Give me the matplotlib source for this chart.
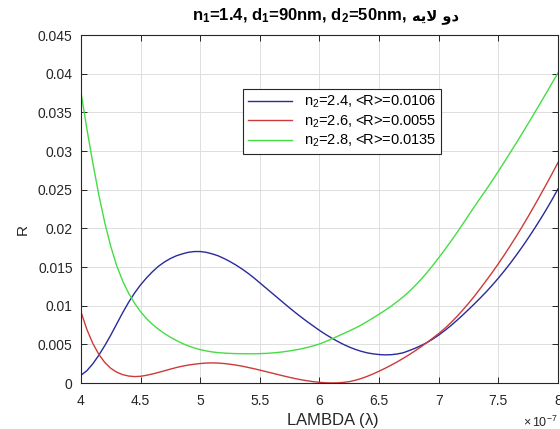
import numpy as np
import matplotlib
matplotlib.use('Agg')
import matplotlib.pyplot as plt
from matplotlib.ticker import FuncFormatter

plt.rcParams['font.family'] = ['Liberation Sans', 'DejaVu Sans']
plt.rcParams['mathtext.fontset'] = 'custom'
plt.rcParams['mathtext.rm'] = 'Liberation Sans'
plt.rcParams['mathtext.it'] = 'Liberation Sans:italic'
plt.rcParams['mathtext.bf'] = 'Liberation Sans:bold'

# lambda in units of 1e-7 m, read every 0.05
lam = [4.00, 4.05, 4.10, 4.15, 4.20, 4.25, 4.30, 4.35, 4.40, 4.45,
       4.50, 4.55, 4.60, 4.65, 4.70, 4.75, 4.80, 4.85, 4.90, 4.95,
       5.00, 5.05, 5.10, 5.15, 5.20, 5.25, 5.30, 5.35, 5.40, 5.45,
       5.50, 5.55, 5.60, 5.65, 5.70, 5.75, 5.80, 5.85, 5.90, 5.95,
       6.00, 6.05, 6.10, 6.15, 6.20, 6.25, 6.30, 6.35, 6.40, 6.45,
       6.50, 6.55, 6.60, 6.65, 6.70, 6.75, 6.80, 6.85, 6.90, 6.95,
       7.00, 7.05, 7.10, 7.15, 7.20, 7.25, 7.30, 7.35, 7.40, 7.45,
       7.50, 7.55, 7.60, 7.65, 7.70, 7.75, 7.80, 7.85, 7.90, 7.95, 8.00]

# n2 = 2.4
R_24 = [0.00100, 0.00160, 0.00250, 0.00360, 0.00485, 0.00620, 0.00765, 0.00910, 0.01045, 0.01165,
        0.01270, 0.01360, 0.01440, 0.01510, 0.01565, 0.01610, 0.01645, 0.01670, 0.01690, 0.01700,
        0.01700, 0.01690, 0.01670, 0.01645, 0.01610, 0.01570, 0.01525, 0.01475, 0.01420, 0.01360,
        0.01295, 0.01230, 0.01165, 0.01100, 0.01035, 0.00970, 0.00908, 0.00848, 0.00790, 0.00735,
        0.00680, 0.00630, 0.00583, 0.00540, 0.00500, 0.00465, 0.00435, 0.00410, 0.00390, 0.00377,
        0.00368, 0.00364, 0.00366, 0.00375, 0.00390, 0.00418, 0.00448, 0.00483, 0.00522, 0.00568,
        0.00620, 0.00678, 0.00740, 0.00807, 0.00877, 0.00950, 0.01025, 0.01102, 0.01182, 0.01267,
        0.01356, 0.01450, 0.01548, 0.01652, 0.01760, 0.01873, 0.01990, 0.02112, 0.02238, 0.02370, 0.02510]

# n2 = 2.6
R_26 = [0.00920, 0.00690, 0.00510, 0.00370, 0.00265, 0.00190, 0.00140, 0.00108, 0.00090, 0.00083,
        0.00087, 0.00100, 0.00117, 0.00137, 0.00158, 0.00180, 0.00200, 0.00218, 0.00232, 0.00243,
        0.00252, 0.00258, 0.00260, 0.00258, 0.00252, 0.00243, 0.00232, 0.00218, 0.00202, 0.00185,
        0.00167, 0.00148, 0.00129, 0.00110, 0.00091, 0.00073, 0.00056, 0.00041, 0.00028, 0.00017,
        0.00009, 0.00003, 0.00001, 0.00002, 0.00008, 0.00018, 0.00035, 0.00058, 0.00086, 0.00118,
        0.00153, 0.00190, 0.00230, 0.00272, 0.00317, 0.00364, 0.00414, 0.00467, 0.00523, 0.00580,
        0.00640, 0.00705, 0.00777, 0.00856, 0.00941, 0.01030, 0.01125, 0.01225, 0.01328, 0.01433,
        0.01543, 0.01657, 0.01775, 0.01897, 0.02023, 0.02153, 0.02287, 0.02424, 0.02563, 0.02705, 0.02850]

# n2 = 2.8
R_28 = [0.03760, 0.03280, 0.02840, 0.02430, 0.02070, 0.01765, 0.01515, 0.01318, 0.01160, 0.01030,
        0.00922, 0.00832, 0.00757, 0.00695, 0.00640, 0.00592, 0.00550, 0.00512, 0.00480, 0.00453,
        0.00432, 0.00415, 0.00402, 0.00393, 0.00387, 0.00383, 0.00380, 0.00379, 0.00378, 0.00378,
        0.00380, 0.00383, 0.00388, 0.00395, 0.00404, 0.00415, 0.00428, 0.00443, 0.00461, 0.00481,
        0.00505, 0.00535, 0.00568, 0.00603, 0.00638, 0.00673, 0.00710, 0.00750, 0.00795, 0.00842,
        0.00890, 0.00940, 0.00993, 0.01050, 0.01112, 0.01180, 0.01255, 0.01337, 0.01425, 0.01520,
        0.01620, 0.01722, 0.01828, 0.01938, 0.02052, 0.02168, 0.02283, 0.02395, 0.02505, 0.02620,
        0.02738, 0.02858, 0.02980, 0.03103, 0.03228, 0.03355, 0.03484, 0.03614, 0.03745, 0.03878, 0.04010]

labels = [r'n$_2$=2.4, <R>=0.0106',
          r'n$_2$=2.6, <R>=0.0055',
          r'n$_2$=2.8, <R>=0.0135']
colors = ['#2a2a9c', '#cc3a3a', '#44dd44']

xticks = [4, 4.5, 5, 5.5, 6, 6.5, 7, 7.5, 8]
yticks = [0, 0.005, 0.01, 0.015, 0.02, 0.025, 0.03, 0.035, 0.04, 0.045]

# persian "two layer" (دو لایه) written in shaped glyphs, visual order
fa_text = '\uFEEA\uFBFE\uFEFB \uFEED\uFEA9'

fig = plt.figure(figsize=(5.6, 4.29), dpi=100)
ax = fig.add_axes([0.1446, 0.1072, 0.8518, 0.8112])

for R, lab, c in zip([R_24, R_26, R_28], labels, colors):
    ax.plot(lam, R, color=c, lw=1.0, label=lab)

ax.set_xlim(4, 8)
ax.set_ylim(0, 0.045)
ax.set_xticks(xticks)
ax.set_yticks(yticks)
ax.xaxis.set_major_formatter(FuncFormatter(lambda v, p: '%g' % v))
ax.yaxis.set_major_formatter(FuncFormatter(lambda v, p: '%g' % v))
ax.grid(True, color='#dedede', lw=0.7)
ax.set_axisbelow(True)
ax.tick_params(direction='in', top=True, right=True, length=4, width=0.7,
               labelsize=10, colors='#262626')
ax.tick_params(axis='x', pad=8)
ax.tick_params(axis='y', pad=6)
for s in ax.spines.values():
    s.set_color('#262626')
    s.set_linewidth(0.8)

ax.set_xlabel(r'LAMBDA ($\mathrm{\lambda}$)', fontsize=12, color='#262626')
ax.xaxis.set_label_coords(0.528, -0.08)
ax.set_ylabel('R', fontsize=11, color='#262626')
ax.yaxis.set_label_coords(-0.107, 0.44)
ax.text(1.0, -0.113, r'$\times\,10^{-7}$', transform=ax.transAxes,
        ha='right', va='center', fontsize=9, color='#262626')

# title: latin part + persian part as separate texts
ax.text(0.686, 1.043, r'n$_\mathbf{1}$=1.4, d$_\mathbf{1}$=90nm, d$_\mathbf{2}$=50nm, ',
        transform=ax.transAxes, ha='right', va='baseline',
        fontsize=12, fontweight='bold', color='black')
ax.text(0.694, 1.043, fa_text, transform=ax.transAxes, ha='left', va='baseline',
        fontsize=10.5, fontweight='bold', family=['DejaVu Sans'], color='black')

leg = ax.legend(loc='upper left', bbox_to_anchor=(0.34, 0.845), fontsize=10.5,
                fancybox=False, edgecolor='#262626', framealpha=1,
                handlelength=3.0, borderaxespad=0, labelspacing=0.2,
                borderpad=0.35)
leg.get_frame().set_linewidth(0.8)

fig.savefig('out.png', dpi=100)
